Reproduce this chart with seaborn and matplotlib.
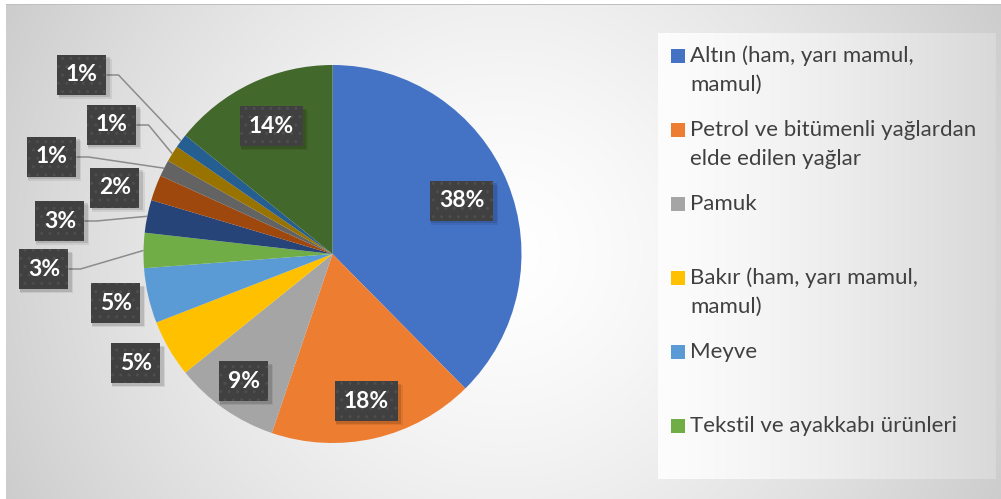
import numpy as np
import matplotlib
matplotlib.use("Agg")
import matplotlib.pyplot as plt
from matplotlib.patches import Rectangle
import seaborn as sns

# data (shares of total, %)
categories = [
    "Altın (ham, yarı mamul,\nmamul)",
    "Petrol ve bitümenli yağlardan\nelde edilen yağlar",
    "Pamuk",
    "Bakır (ham, yarı mamul,\nmamul)",
    "Meyve",
    "Tekstil ve ayakkabı ürünleri",
    "Diğer 7", "Diğer 8", "Diğer 9", "Diğer 10", "Diğer 11", "Diğer 12",
]
shares = [37.6, 17.6, 9.0, 4.9, 4.7, 3.0, 2.8, 2.2, 1.4, 1.4, 1.2, 14.2]
slice_colors = ["#4472C4", "#ED7D31", "#A5A5A5", "#FFC000", "#5B9BD5", "#70AD47",
                "#264478", "#9E480E", "#636363", "#997300", "#255E91", "#43682B"]
legend_count = 6

sns.set_theme(style="white")
plt.rcParams["font.family"] = ["Lato", "DejaVu Sans"]

W, H = 1001, 499
R = 189.0            # pie radius, px
cx, cy = 332.5, 254  # pie centre, px from top-left

def px(x, y):
    # pixel position -> pie data units
    return (x - cx) / R, (cy - y) / R

fig = plt.figure(figsize=(W / 100, H / 100), dpi=100)

# background: radial grey gradient + lighter legend panel
yy, xx = np.mgrid[0:H, 0:W]
d = np.hypot(xx - 503, yy - 252)
v = 1 - 0.06 * (d / 240) ** 1.42
leg = (xx >= 658) & (xx <= 995) & (yy >= 33) & (yy <= 478)
v[leg] = (0.99 - 0.14 * ((xx - 658) / 337.0) ** 1.3)[leg]
v[:, :6] = 1.0
v[:4, :] = 1.0
v[4, 6:] = 0.75
v = np.clip(v, 0, 1)
ax_bg = fig.add_axes([0, 0, 1, 1])
ax_bg.imshow(np.dstack([v, v, v]), aspect="auto", interpolation="bilinear")
ax_bg.axis("off")

ax = fig.add_axes([0, 0, 1, 1])
ax.patch.set_alpha(0)
palette = sns.color_palette(slice_colors)
wedges, _ = ax.pie(shares, colors=palette, startangle=90, counterclock=False,
                   radius=1, center=(0, 0), wedgeprops=dict(linewidth=0))
ax.set_xlim(-cx / R, (W - cx) / R)
ax.set_ylim(-(H - cy) / R, cy / R)
ax.set_aspect("auto")
ax.axis("off")

# label placement: inside labels by radius, outside labels by pixel position
inside_r = {0: 0.74, 1: 0.80, 2: 0.82, 11: 0.75}
outside_px = {3: (136, 363), 4: (116, 303), 5: (44, 269), 6: (60, 221),
              7: (115, 188), 8: (52, 157), 9: (112, 125), 10: (82, 75)}
with_leader = [5, 6, 8, 9, 10]

for i, w in enumerate(wedges):
    ang = np.deg2rad((w.theta1 + w.theta2) / 2)
    if i in inside_r:
        lx, ly = inside_r[i] * np.cos(ang), inside_r[i] * np.sin(ang)
    else:
        lx, ly = px(*outside_px[i])
    text = f"{round(shares[i])}%"
    bw = (63 if len(text) == 3 else 49) / R
    bh = 40 / R
    for k, a in [(4, 0.07), (2.5, 0.12)]:
        ax.add_patch(Rectangle((lx - bw / 2 + 1 / R, ly - bh / 2 - k / R), bw + k / R, bh,
                               facecolor="black", alpha=a, linewidth=0, zorder=4))
    ax.add_patch(Rectangle((lx - bw / 2, ly - bh / 2), bw, bh, facecolor="#404040",
                           edgecolor="#4e4e4e", hatch="..", linewidth=0, zorder=5))
    ax.text(lx, ly, text, ha="center", va="center", color="white",
            fontsize=16.5, fontweight="bold", zorder=6)
    if i in with_leader:
        x0 = lx + bw / 2
        xs = [x0, x0 + 12 / R, np.cos(ang)]
        ys = [ly, ly, np.sin(ang)]
        ax.plot(xs, ys, color="#8c8c8c", lw=1.1, zorder=3, solid_capstyle="butt")

# legend, one entry every 74 px like the original
for i in range(legend_count):
    ty = 56 + 74 * i
    sx, sy = px(671, ty + 7)
    ax.add_patch(Rectangle((sx, sy), 14 / R, 14 / R, facecolor=palette[i],
                           linewidth=0, zorder=5))
    for j, line in enumerate(categories[i].split("\n")):
        tx, tyy = px(690, ty + 29 * j)
        ax.text(tx, tyy, line, ha="left", va="center", color="#404040",
                fontsize=16, zorder=6)

fig.savefig("out.png", dpi=100)
